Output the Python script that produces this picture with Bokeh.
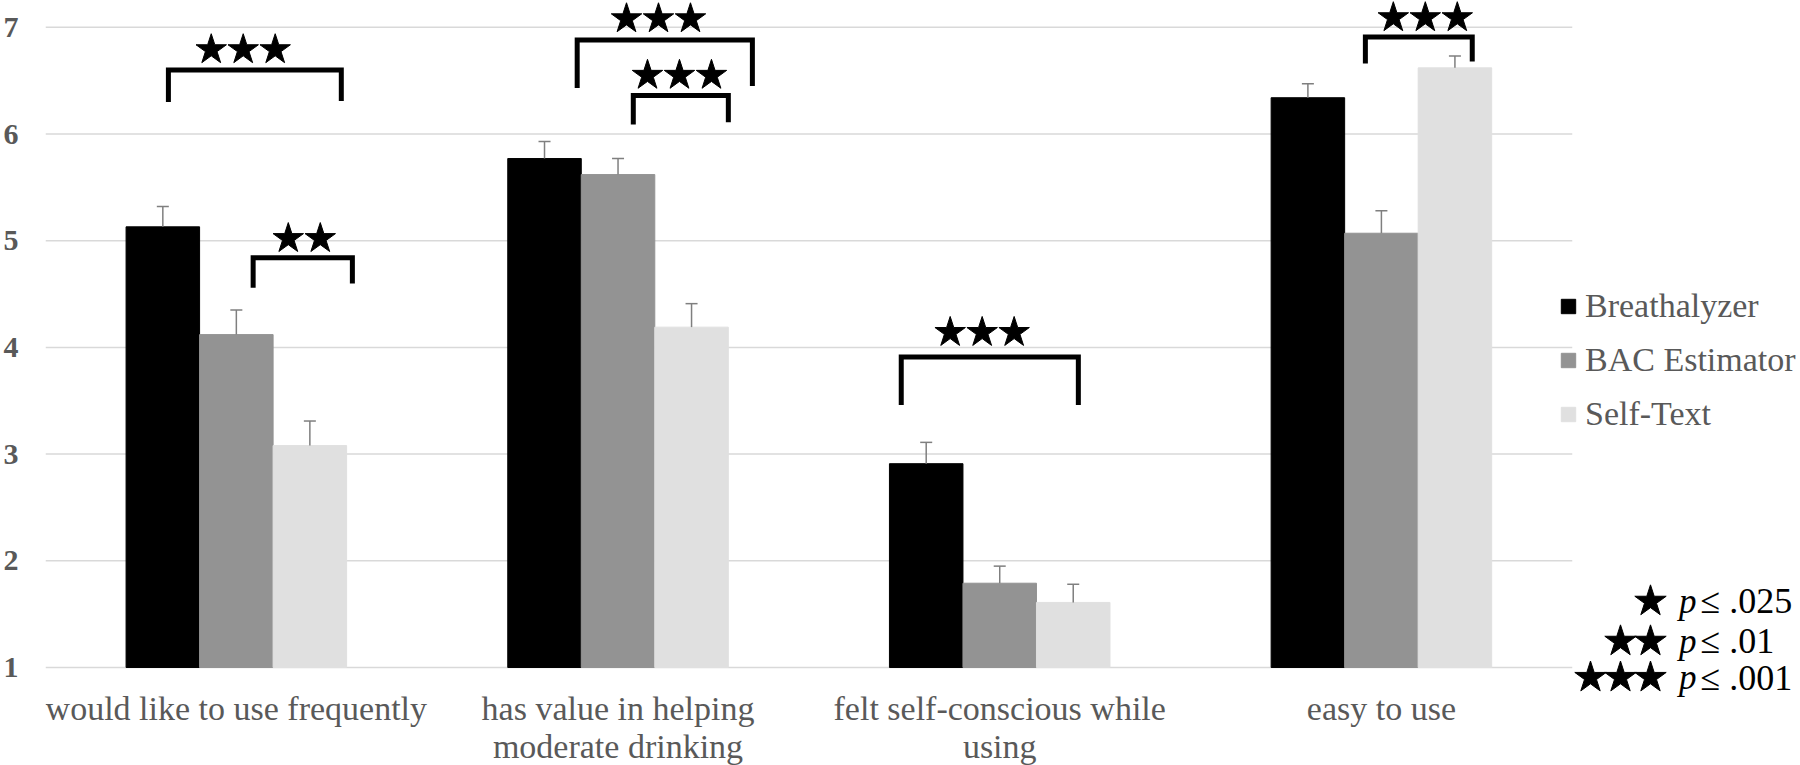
from bokeh.plotting import figure
from bokeh.models import Range1d, FixedTicker, Whisker, TeeHead, ColumnDataSource, LabelSet
from bokeh.core.properties import value
from bokeh.embed import file_html
from bokeh.resources import INLINE

# ---------------- data ----------------
categories = ["would like to use frequently",
              "has value in helping\nmoderate drinking",
              "felt self-conscious while\nusing",
              "easy to use"]
series = ["Breathalyzer", "BAC Estimator", "Self-Text"]
breathalyzer = [5.13, 5.77, 2.91, 6.34]
bac_estimator = [4.12, 5.62, 1.79, 5.07]
self_text = [3.08, 4.19, 1.61, 6.62]
breathalyzer_se = [0.19, 0.16, 0.20, 0.13]
bac_estimator_se = [0.23, 0.15, 0.16, 0.21]
self_text_se = [0.23, 0.22, 0.17, 0.11]
y_ticks = [1, 2, 3, 4, 5, 6, 7]

# significance brackets (category-axis coordinates: category i spans i..i+1)
bracket_left = [0.322, 0.544, 1.393, 1.540, 2.242, 3.458]
bracket_right = [0.775, 0.804, 1.852, 1.789, 2.706, 3.738]
bracket_top = [6.60, 4.84, 6.88, 6.36, 3.91, 6.91]
bracket_left_end = [6.30, 4.56, 6.43, 6.09, 3.46, 6.66]
bracket_right_end = [6.31, 4.60, 6.45, 6.11, 3.46, 6.68]
bracket_star_count = [3, 2, 3, 3, 3, 3]
bracket_star_x = [0.518, 0.678, 1.606, 1.661, 2.454, 3.615]
bracket_star_y = [6.79, 5.02, 7.08, 6.55, 4.14, 7.09]

# significance key
key_star_count = [1, 2, 3]
key_texts = ["≤ .025", "≤ .01", "≤ .001"]
key_y = [1.62, 1.245, 0.906]

# ---------------- styles / layout ----------------
colors = ["#000000", "#939393", "#e0e0e0"]
offsets = [-0.1926, 0.0, 0.1926]
bar_width = 0.1926
gray_text = "#595959"
serif = "Liberation Serif"
star_step = 0.0838
key_step = 0.0786
key_star_right = 4.205
key_p_x = 4.280
key_text_x = 4.336

n = len(categories)
cat_x = [i + 0.5 for i in range(n)]

p = figure(x_range=Range1d(0, 4.598), y_range=Range1d(0.0815, 7.2512),
           width=1800, height=765, output_backend="svg", toolbar_location=None,
           min_border_left=45, min_border_right=0, min_border_top=0, min_border_bottom=0)
p.outline_line_color = None
p.xaxis.visible = False
p.xgrid.visible = False
p.ygrid.visible = False

p.yaxis.ticker = FixedTicker(ticks=y_ticks)
p.yaxis.axis_line_color = None
p.yaxis.major_tick_line_color = None
p.yaxis.minor_tick_line_color = None
p.yaxis.major_label_text_font = serif
p.yaxis.major_label_text_font_style = "bold"
p.yaxis.major_label_text_font_size = "30px"
p.yaxis.major_label_text_color = gray_text
p.yaxis.major_label_standoff = 21

# horizontal gridlines across the category area only
p.segment(x0=[0] * len(y_ticks), x1=[n] * len(y_ticks), y0=y_ticks, y1=y_ticks,
          line_color="#d9d9d9", line_width=1.5)

vals = [breathalyzer, bac_estimator, self_text]
errs = [breathalyzer_se, bac_estimator_se, self_text_se]
for name, v, e, c, off in zip(series, vals, errs, colors, offsets):
    xs_ = [x + off for x in cat_x]
    src = ColumnDataSource(dict(x=xs_, top=v,
                                upper=[a + b for a, b in zip(v, e)], lower=v))
    p.vbar(x="x", top="top", bottom=1, width=bar_width,
           source=src, fill_color=c, line_color=c, legend_label=name)
    w = Whisker(base="x", upper="upper", lower="lower",
                source=src, dimension="height", line_color="#7f7f7f", line_width=1.5,
                upper_head=TeeHead(size=12, line_color="#7f7f7f", line_width=1.5),
                lower_head=None, level="glyph")
    p.add_layout(w)

# brackets
bxs = [[a, a, b, b] for a, b in zip(bracket_left, bracket_right)]
bys = [[l, t, t, r] for l, t, r in zip(bracket_left_end, bracket_top, bracket_right_end)]
p.multi_line(xs=bxs, ys=bys, line_color="black", line_width=5, line_join="miter", line_cap="butt")

sx, sy = [], []
for cx, cy, k in zip(bracket_star_x, bracket_star_y, bracket_star_count):
    for j in range(k):
        sx.append(cx + (j - (k - 1) / 2) * star_step)
        sy.append(cy)
p.scatter(x=sx, y=sy, marker="star", size=32, fill_color="black", line_color="black")

# category labels
line1 = [c.split("\n")[0] for c in categories]
line2 = [c.split("\n")[1] if "\n" in c else "" for c in categories]
lab_src = ColumnDataSource(dict(x=cat_x, l1=line1, l2=line2,
                                y1=[0.62] * n, y2=[0.255] * n))
for t, y in (("l1", "y1"), ("l2", "y2")):
    p.add_layout(LabelSet(x="x", y=y, text=t, source=lab_src, text_align="center",
                          text_baseline="middle", text_font=value(serif),
                          text_font_size=value("34px"), text_color=gray_text))

# significance key
kx, ky = [], []
for cy, k in zip(key_y, key_star_count):
    for j in range(k):
        kx.append(key_star_right - j * key_step)
        ky.append(cy)
p.scatter(x=kx, y=ky, marker="star", size=33, fill_color="black", line_color="black")
key_src = ColumnDataSource(dict(xp=[key_p_x] * 3, xt=[key_text_x] * 3,
                                y=key_y, p=["p"] * 3, t=key_texts))
p.add_layout(LabelSet(x="xp", y="y", text="p", source=key_src, text_align="left",
                      text_baseline="middle", text_font=value(serif), text_font_style="italic",
                      text_font_size=value("35px"), text_color="black"))
p.add_layout(LabelSet(x="xt", y="y", text="t", source=key_src, text_align="left",
                      text_baseline="middle", text_font=value(serif),
                      text_font_size=value("36px"), text_color="black"))

# legend
lg = p.legend[0]
lg.location = (1514, 331)
lg.border_line_color = None
lg.background_fill_alpha = 0
lg.padding = 0
lg.margin = 0
lg.glyph_width = 18
lg.glyph_height = 18
lg.label_standoff = 8
lg.spacing = 14
lg.label_height = 40
lg.label_text_font = serif
lg.label_text_font_size = "34px"
lg.label_text_color = gray_text

open("out.html", "w").write(file_html(p, INLINE))
